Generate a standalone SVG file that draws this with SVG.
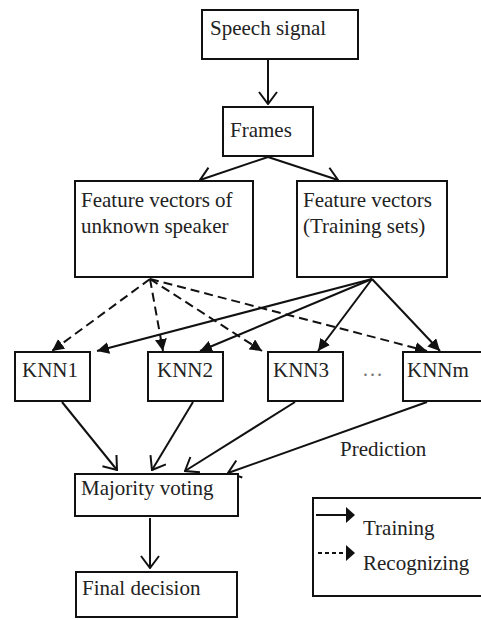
<svg xmlns="http://www.w3.org/2000/svg" width="481" height="620" viewBox="0 0 481 620">
<style>
.box{fill:#fff;stroke:#111;stroke-width:2}
.t{font-family:'Liberation Serif','Times New Roman',Times,'DejaVu Serif',serif;font-size:21px;fill:#222}
.ln{stroke:#111;stroke-width:2;fill:none}
.open{marker-end:url(#openArrow)}
.fill{marker-end:url(#fillArrow)}
.dash{stroke-dasharray:9 5}
</style>
<defs>
<marker id="openArrow" markerUnits="userSpaceOnUse" viewBox="0 0 14 20" refX="13" refY="10" markerWidth="14" markerHeight="20" orient="auto">
<path d="M1,1 L13,10 L1,19" fill="none" stroke="#111" stroke-width="2"/>
</marker>
<marker id="fillArrow" markerUnits="userSpaceOnUse" viewBox="0 0 12 12" refX="12" refY="6" markerWidth="12" markerHeight="12" orient="auto">
<path d="M0,0 L12,6 L0,12 Z" fill="#111"/>
</marker>
</defs>
<rect width="481" height="620" fill="#fff"/>
<g id="connectors">
<line class="ln open" x1="268" y1="60" x2="268" y2="104"/>
<line class="ln open" x1="268" y1="157" x2="200" y2="180"/>
<line class="ln open" x1="268" y1="157" x2="338" y2="180"/>
<line class="ln dash fill" x1="150" y1="279" x2="52" y2="351"/>
<line class="ln dash fill" x1="150" y1="279" x2="163" y2="351"/>
<line class="ln dash fill" x1="150" y1="279" x2="262" y2="351"/>
<line class="ln dash fill" x1="150" y1="279" x2="427" y2="351"/>
<line class="ln fill" stroke-width="1" x1="372" y1="279" x2="97" y2="351"/>
<line class="ln fill" x1="372" y1="279" x2="200" y2="351"/>
<line class="ln fill" x1="372" y1="279" x2="318" y2="351"/>
<line class="ln fill" x1="372" y1="279" x2="440" y2="351"/>
<line class="ln open" x1="62" y1="402" x2="117" y2="470"/>
<line class="ln open" x1="193" y1="402" x2="152" y2="470"/>
<line class="ln open" x1="295" y1="402" x2="185" y2="471"/>
<line class="ln open" x1="427" y1="402" x2="228" y2="473"/>
<line class="ln open" x1="150" y1="518" x2="150" y2="568"/>
</g>
<g font-family="Liberation Serif, serif" font-size="21">
<g id="speech"><rect class="box" x="202" y="10" width="156" height="49"/><text class="t" x="210" y="35">Speech signal</text></g>
<g id="frames"><rect class="box" x="223" y="107" width="90" height="49"/><text class="t" x="230" y="137">Frames</text></g>
<g id="unknown"><rect class="box" x="75" y="181" width="178" height="96"/><text class="t" x="81" y="207">Feature vectors of</text><text class="t" x="81" y="233">unknown speaker</text></g>
<g id="training"><rect class="box" x="297" y="181" width="150" height="96"/><text class="t" x="303" y="207">Feature vectors</text><text class="t" x="303" y="233">(Training sets)</text></g>
<g id="knn1"><rect class="box" x="15" y="352" width="75" height="49"/><text class="t" x="22" y="377">KNN1</text></g>
<g id="knn2"><rect class="box" x="148" y="352" width="75" height="49"/><text class="t" x="157" y="377">KNN2</text></g>
<g id="knn3"><rect class="box" x="268" y="352" width="75" height="49"/><text class="t" x="273" y="377">KNN3</text></g>
<g id="dots"><text class="t" x="362" y="376" style="fill:#777">…</text></g>
<g id="knnm"><rect class="box" x="403" y="352" width="90" height="49"/><text class="t" x="407" y="377">KNNm</text></g>
<g id="prediction"><text class="t" x="340" y="456">Prediction</text></g>
<g id="majority"><rect class="box" x="75" y="474" width="163" height="42"/><text class="t" x="81" y="495">Majority voting</text></g>
<g id="final"><rect class="box" x="76" y="572" width="161" height="45"/><text class="t" x="82" y="595">Final decision</text></g>
<g id="legend">
<rect class="box" x="313" y="498" width="180" height="98"/>
<line class="ln" x1="316" y1="515" x2="347" y2="515"/>
<path d="M346,507 L355,515 L346,523 Z" fill="#111"/>
<line class="ln" x1="318" y1="553" x2="347" y2="553" stroke-dasharray="4 3"/>
<path d="M346,545 L355,553 L346,561 Z" fill="#111"/>
<text class="t" x="363" y="535">Training</text>
<text class="t" x="363" y="570">Recognizing</text>
</g>
</g>
</svg>
